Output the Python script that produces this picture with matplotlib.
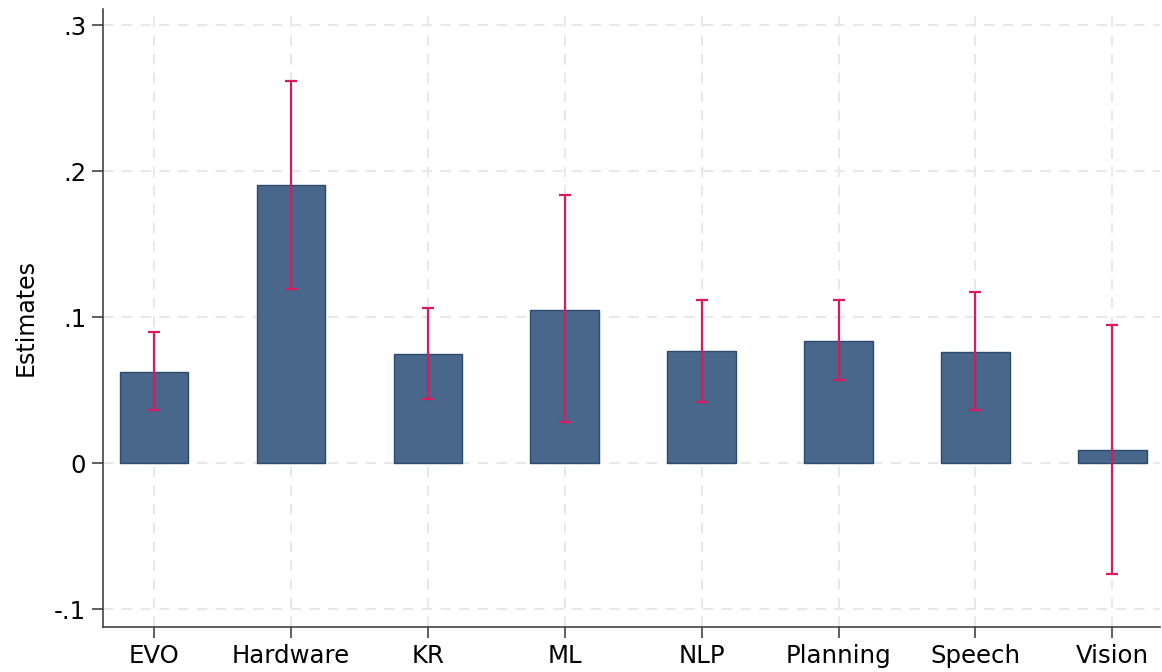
import matplotlib
matplotlib.use("Agg")
import matplotlib.pyplot as plt
import numpy as np

categories = ["EVO", "Hardware", "KR", "ML", "NLP", "Planning", "Speech", "Vision"]
estimates = [0.0623, 0.1904, 0.0747, 0.1048, 0.0767, 0.0836, 0.0760, 0.0089]
ci_upper = [0.0897, 0.2616, 0.1062, 0.1836, 0.1116, 0.1116, 0.1171, 0.0945]
ci_lower = [0.0363, 0.1192, 0.0438, 0.0281, 0.0418, 0.0568, 0.0363, -0.0760]
yticks = [-0.1, 0, 0.1, 0.2, 0.3]
yticklabels = ["-.1", "0", ".1", ".2", ".3"]

fig = plt.figure(figsize=(11.62, 6.72), dpi=100)
ax = fig.add_axes([0.0886, 0.067, 0.9094, 0.9196])

x = np.arange(len(categories))
est = np.array(estimates)
lo = np.array(ci_lower)
hi = np.array(ci_upper)

ax.bar(x, est, width=0.5, color="#48678a", edgecolor="#2a4a6e", linewidth=1.0, zorder=2)
ax.errorbar(x, est, yerr=[est - lo, hi - est], fmt="none", ecolor="#d81b60",
            elinewidth=1.6, capsize=4.2, capthick=1.6, zorder=3)

ax.set_xlim(-0.372, 7.345)
ax.set_ylim(-0.1123, 0.311)
ax.set_xticks(x)
ax.set_xticklabels(categories, fontsize=17.6)
ax.set_yticks(yticks)
ax.set_yticklabels(yticklabels, fontsize=17.6)
ax.set_ylabel("Estimates", fontsize=17, labelpad=12)

ax.grid(True, color="#e8e8e8", linestyle=(0, (5, 4)), linewidth=1.5, zorder=0)
ax.set_axisbelow(True)
for s in ["top", "right"]:
    ax.spines[s].set_visible(False)
for s in ["left", "bottom"]:
    ax.spines[s].set_linewidth(1.1)
    ax.spines[s].set_color("#333333")
ax.tick_params(axis="both", length=8, width=1.1, color="#333333", pad=4)

fig.savefig("out.png", dpi=100, facecolor="white")
